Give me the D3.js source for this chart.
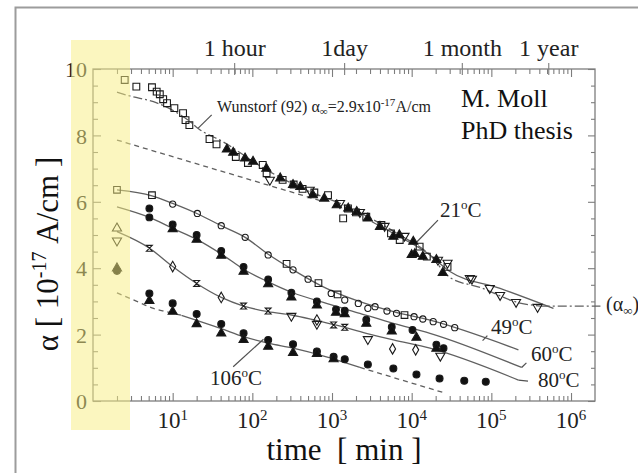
<!DOCTYPE html>
<html>
<head>
<meta charset="utf-8">
<script src="https://cdn.jsdelivr.net/npm/d3@7.9.0/dist/d3.min.js"></script>
<style>
  body { margin: 0; background: #fff; }
  svg { display: block; font-family: "Liberation Serif", "Times New Roman", serif; }
</style>
</head>
<body>
<svg id="chart" width="638" height="473"></svg>
<script>
// time in minutes, alpha in 1e-17 A/cm

// 21 C
const sq21 = [[2.5,9.67],[3.5,9.47],[5.5,9.45],[6.3,9.32],[6.9,9.24],[7.6,9.09],[8.5,8.97],[10.5,8.82],[13.5,8.67],[14.5,8.46],[16.2,8.31],[29,7.89],[35.5,7.73],[62,7.35],[88,7.17],[135,7.11],[151,6.86],[240,6.66],[330,6.52],[427,6.39],[600,6.28],[891,6.2],[1380,5.5],[1585,5.8],[2000,5.68],[2692,5.55],[4169,5.3],[5500,5.05],[7079,4.85],[12589,4.65],[15488,4.35],[28184,4.04]];
const tri21 = [[47.9,7.58],[57.5,7.48],[81,7.31],[102,7.21],[150,7.0],[224,6.71],[324,6.51],[400,6.45],[575,6.2],[800,6.1],[1148,5.9],[1600,5.8],[2042,5.7],[2818,5.5],[4000,5.25],[5888,4.95],[7000,5.0],[10000,4.4],[10471,4.8],[10965,4.43],[13804,4.35],[20417,4.25],[24547,3.86]];
const down21 = [[166,6.66],[525,6.36],[1259,5.96],[2239,5.69],[4571,5.27],[8128,4.97],[21380,4.25],[28184,4.16],[53703,3.7],[57000,3.68],[95499,3.4],[128825,3.19],[204174,2.98],[380189,2.83]];

// 49 C
const circ49 = [[10,5.93],[20.4,5.65],[40.7,5.28],[81.3,4.93],[158,4.4],[324,3.95],[501,3.67],[977,3.24],[1445,3.04],[2138,2.94],[2818,2.79],[3467,2.84],[4898,2.71],[6457,2.64],[10715,2.54],[13804,2.47],[18621,2.39],[25119,2.31],[34674,2.21]];
const sq49 = [[2,6.36],[5.5,6.2],[269,4.13],[676,3.55],[1175,3.21],[8128,2.59]];

// 60 C
const circ60 = [[5.1,5.8],[5.1,5.53],[10,5.32],[20,5.0],[40.7,4.52],[77.6,4.04],[158,3.66],[309,3.26],[646,3.0],[1122,2.76],[1445,2.72],[2692,2.45],[5623,2.23],[10233,2.14],[20417,1.7],[25119,1.59]];
const tri60 = [[10,5.18],[20,4.86],[40.7,4.38],[77.6,3.9],[158,3.52],[309,3.12],[646,2.88],[1122,2.66],[1445,2.62],[2692,2.33],[5623,2.1],[11482,1.91],[20417,1.58]];

// 80 C
const up80 = [[2,5.2]];
const down80 = [[2,4.83],[309,2.56],[646,2.32],[2818,1.86],[22909,1.36]];
const diam80 = [[10,4.05],[40.7,3.12],[646,2.44],[5754,1.57],[11220,1.54]];
const glass80 = [[5.1,4.6],[20,3.54],[77.6,2.86],[158,2.71],[1047,2.29],[1445,2.22]];

// 106 C
const circ106 = [[2,3.92],[5.1,3.24],[10,2.94],[20,2.62],[40.7,2.32],[77.6,2.04],[158,1.84],[324,1.71],[646,1.49],[1047,1.33],[1445,1.26],[2818,1.1],[5888,0.98],[11482,0.8],[22387,0.68],[45709,0.61],[85114,0.58]];
const tri106 = [[2,4.0],[5.1,3.02],[10,2.69],[20,2.32],[40.7,2.04],[77.6,1.84],[158,1.64],[324,1.45],[646,1.42],[1047,1.26]];

// curves
const wunstorf = [[2,9.3],[2.88,9.19],[6.31,8.98],[16.6,8.41],[20.9,8.21],[42.7,7.81],[151,6.96],[427,6.4],[1585,5.85],[7079,5.0],[16982,4.4],[30200,3.72],[72400,3.42],[229087,2.95],[416869,2.86]];
const alphaInf = [[416869,2.86],[2340000,2.86]];
const fit21 = [[3162,5.4],[7079,4.94],[15849,4.45],[30200,3.9],[128825,3.39],[602560,2.79]];
const dash21 = [[2,7.86],[794,6.0]];
const fit49 = [[2,6.36],[5.5,6.18],[10,5.95],[20.4,5.64],[40.7,5.28],[81.3,4.93],[158,4.42],[324,3.95],[851,3.39],[2239,2.99],[5888,2.69],[16596,2.44],[218776,1.54]];
const fit60 = [[2,5.85],[5.13,5.53],[10,5.2],[20,4.87],[40.7,4.43],[77.6,3.97],[158,3.59],[324,3.26],[851,2.94],[2239,2.64],[5888,2.34],[16982,2.04],[239883,1.01]];
const fit80 = [[2,5.1],[5.13,4.6],[10,4.05],[20,3.54],[40.7,3.12],[77.6,2.86],[158,2.69],[309,2.59],[646,2.42],[1096,2.29],[2692,2.04],[5888,1.84],[16982,1.59],[218776,0.63]];
const fit106a = [[2,3.26],[3.55,3.0],[5.75,2.79],[8.32,2.69],[12.9,2.58]];
const fit106 = [[12.9,2.58],[40.7,2.18],[77.6,1.94],[158,1.74],[324,1.59],[851,1.33],[2239,1.01]];
const fit106b = [[2239,1.01],[24547,0.26]];

// leader lines
const leaders = [
  [[30.9,8.62],[20.9,8.22]],
  [[21380,5.45],[10965,4.73]],
  [[57.5,1.03],[138,1.86]],
  [[239883,1.01],[275423,1.15]],
  [[218776,0.63],[288403,0.6]],
  [[77625,1.82],[89125,1.97]]
];

// axis ticks / labels
const decades = [10, 100, 1e3, 1e4, 1e5, 1e6];
const decadeExp = ['1', '2', '3', '4', '5', '6'];
const yMajor = [0, 2, 4, 6, 8, 10];
const timeMarks = [60, 1440, 43200, 525600];
const timeNames = ['1 hour', '1day', '1 month', '1 year'];

const svg = d3.select('#chart');
const x = d3.scaleLog().domain([1, 2e6]).range([93, 595]);
const y = d3.scaleLinear().domain([0, 10]).range([401, 69]);

const minor = [];
for (let e = 0; e <= 6; e++) {
  for (let k = 2; k <= 9; k++) {
    const v = k * Math.pow(10, e);
    if (v < 2e6) minor.push(v);
  }
}
const yMinor = d3.range(0.5, 10, 0.5).filter(v => v % 2 !== 0);

// outer frame
svg.append('rect').attr('x', 15.5).attr('y', 7.5).attr('width', 640).attr('height', 480)
  .attr('fill', 'none').attr('stroke', '#9c9c9c').attr('stroke-width', 2);

const axisColor = '#7d7d7d';
function styleAxis(g) {
  g.select('.domain').remove();
  g.selectAll('line').attr('stroke', axisColor).attr('stroke-width', 1.1);
}

// plot frame
svg.append('rect').attr('x', x(1)).attr('y', y(10))
  .attr('width', x(2e6) - x(1)).attr('height', y(0) - y(10))
  .attr('fill', 'none').attr('stroke', axisColor).attr('stroke-width', 1.3);

// x ticks
svg.append('g').attr('transform', `translate(0,${y(0)})`)
  .call(d3.axisBottom(x).tickValues(minor).tickSize(-5).tickFormat('')).call(styleAxis);
svg.append('g').attr('transform', `translate(0,${y(0)})`)
  .call(d3.axisBottom(x).tickValues(decades).tickSize(-8).tickFormat('')).call(styleAxis);
svg.append('g').attr('transform', `translate(0,${y(10)})`)
  .call(d3.axisTop(x).tickValues(minor).tickSize(-5).tickFormat('')).call(styleAxis);
svg.append('g').attr('transform', `translate(0,${y(10)})`)
  .call(d3.axisTop(x).tickValues(decades).tickSize(-8).tickFormat('')).call(styleAxis);
svg.append('g').selectAll('line').data(timeMarks).join('line')
  .attr('x1', d => x(d)).attr('x2', d => x(d))
  .attr('y1', y(10) - 6).attr('y2', y(10) + 6)
  .attr('stroke', axisColor).attr('stroke-width', 1.1);

// y ticks
svg.append('g').attr('transform', `translate(${x(1)},0)`)
  .call(d3.axisLeft(y).tickValues(yMinor).tickSize(-5).tickFormat('')).call(styleAxis);
const yl = svg.append('g').attr('transform', `translate(${x(1)},0)`)
  .call(d3.axisLeft(y).tickValues(yMajor).tickSize(-8).tickPadding(6).tickFormat(d3.format('d')))
  .call(styleAxis);
yl.selectAll('text').attr('font-size', 22).attr('fill', '#222')
  .attr('font-family', '"Liberation Serif", serif').attr('dy', '0.35em');
svg.append('g').attr('transform', `translate(${x(2e6)},0)`)
  .call(d3.axisRight(y).tickValues(yMinor).tickSize(-4).tickFormat('')).call(styleAxis);
svg.append('g').attr('transform', `translate(${x(2e6)},0)`)
  .call(d3.axisRight(y).tickValues(yMajor).tickSize(-7).tickFormat('')).call(styleAxis);

// x tick labels
const xl = svg.append('g').selectAll('text').data(decades).join('text')
  .attr('x', d => x(d)).attr('y', 428).attr('text-anchor', 'middle')
  .attr('font-size', 23).attr('fill', '#222');
xl.append('tspan').text('10');
xl.append('tspan').attr('dy', -8).attr('font-size', 15).text((d, i) => decadeExp[i]);

// top labels
svg.append('g').selectAll('text').data(timeMarks).join('text')
  .attr('x', d => x(d)).attr('y', 56).attr('text-anchor', 'middle')
  .attr('font-size', 24).attr('fill', '#222')
  .text((d, i) => timeNames[i]);

// curves
const line = d3.line().x(d => x(d[0])).y(d => y(d[1])).curve(d3.curveMonotoneX);
function drawLine(data, dash) {
  svg.append('path').datum(data).attr('d', line)
    .attr('fill', 'none').attr('stroke', '#606060').attr('stroke-width', 1.3)
    .attr('stroke-dasharray', dash);
}
drawLine(wunstorf, '9,3,2,3');
drawLine(alphaInf, '9,3,2,3');
drawLine(fit21, null);
drawLine(dash21, '5,4');
drawLine(fit49, null);
drawLine(fit60, null);
drawLine(fit80, null);
drawLine(fit106a, '5,4');
drawLine(fit106, null);
drawLine(fit106b, '5,4');

const straight = d3.line().x(d => x(d[0])).y(d => y(d[1]));
svg.append('g').selectAll('path').data(leaders).join('path')
  .attr('d', straight).attr('fill', 'none').attr('stroke', '#505050').attr('stroke-width', 1.2);

// markers
const hourglass = {
  draw(ctx, size) {
    const s = Math.sqrt(size) / 2;
    ctx.moveTo(-s, -s); ctx.lineTo(s, -s); ctx.lineTo(-s, s); ctx.lineTo(s, s); ctx.closePath();
  }
};
function drawMarks(data, type, size, filled, flip) {
  svg.append('g').selectAll('path').data(data).join('path')
    .attr('transform', d => `translate(${x(d[0])},${y(d[1])})` + (flip ? ' rotate(180)' : ''))
    .attr('d', d3.symbol(type, size))
    .attr('fill', filled ? '#111' : 'none')
    .attr('stroke', '#1a1a1a').attr('stroke-width', 1.1);
}
drawMarks(sq21, d3.symbolSquare, 46, false);
drawMarks(tri21, d3.symbolTriangle, 36, true);
drawMarks(down21, d3.symbolTriangle, 36, false, true);
drawMarks(circ49, d3.symbolCircle, 30, false);
drawMarks(sq49, d3.symbolSquare, 44, false);
drawMarks(circ60, d3.symbolCircle, 36, true);
drawMarks(tri60, d3.symbolTriangle, 36, true);
drawMarks(up80, d3.symbolTriangle, 36, false);
drawMarks(down80, d3.symbolTriangle, 36, false, true);
drawMarks(diam80, d3.symbolDiamond, 32, false);
drawMarks(glass80, hourglass, 34, false);
drawMarks(circ106, d3.symbolCircle, 38, true);
drawMarks(tri106, d3.symbolTriangle, 36, true);

// annotations
function degLabel(px, py, num) {
  const t = svg.append('text').attr('x', px).attr('y', py).attr('font-size', 21).attr('fill', '#222');
  t.append('tspan').text(num);
  t.append('tspan').attr('dy', -8).attr('font-size', 13).text('o');
  t.append('tspan').attr('dy', 8).text('C');
}
degLabel(440, 217, '21');
degLabel(491, 334, '49');
degLabel(531, 361, '60');
degLabel(538, 387, '80');
degLabel(210, 385, '106');

const wl = svg.append('text').attr('x', 217).attr('y', 112).attr('font-size', 16).attr('fill', '#222');
wl.append('tspan').text('Wunstorf (92) α');
wl.append('tspan').attr('dy', 3).attr('font-size', 11).text('∞');
wl.append('tspan').attr('dy', -3).text('=2.9x10');
wl.append('tspan').attr('dy', -6).attr('font-size', 11).text('-17');
wl.append('tspan').attr('dy', 6).text('A/cm');

svg.append('text').attr('x', 461).attr('y', 107).attr('font-size', 26).attr('fill', '#111').text('M. Moll');
svg.append('text').attr('x', 461).attr('y', 139).attr('font-size', 26).attr('fill', '#111').text('PhD thesis');

const ai = svg.append('text').attr('x', 606).attr('y', 311).attr('font-size', 20).attr('fill', '#222');
ai.append('tspan').text('(α');
ai.append('tspan').attr('dy', 4).attr('font-size', 13).text('∞');
ai.append('tspan').attr('dy', -4).text(')');

// axis titles
svg.append('text').attr('x', 344).attr('y', 460).attr('text-anchor', 'middle')
  .attr('font-size', 31).attr('fill', '#111').text('time\u00a0\u00a0[ min ]');
const yt = svg.append('text').attr('transform', 'translate(58,254) rotate(-90)')
  .attr('text-anchor', 'middle').attr('font-size', 31).attr('fill', '#111');
yt.append('tspan').text('α [ 10');
yt.append('tspan').attr('dy', -12).attr('font-size', 20).text('-17');
yt.append('tspan').attr('dy', 12).text(' A/cm ]');

// highlighted band over the first points
svg.append('rect').attr('x', 71).attr('y', 40).attr('width', 59).attr('height', 390)
  .attr('fill', '#f7ee80').attr('opacity', 0.5);
</script>
</body>
</html>
